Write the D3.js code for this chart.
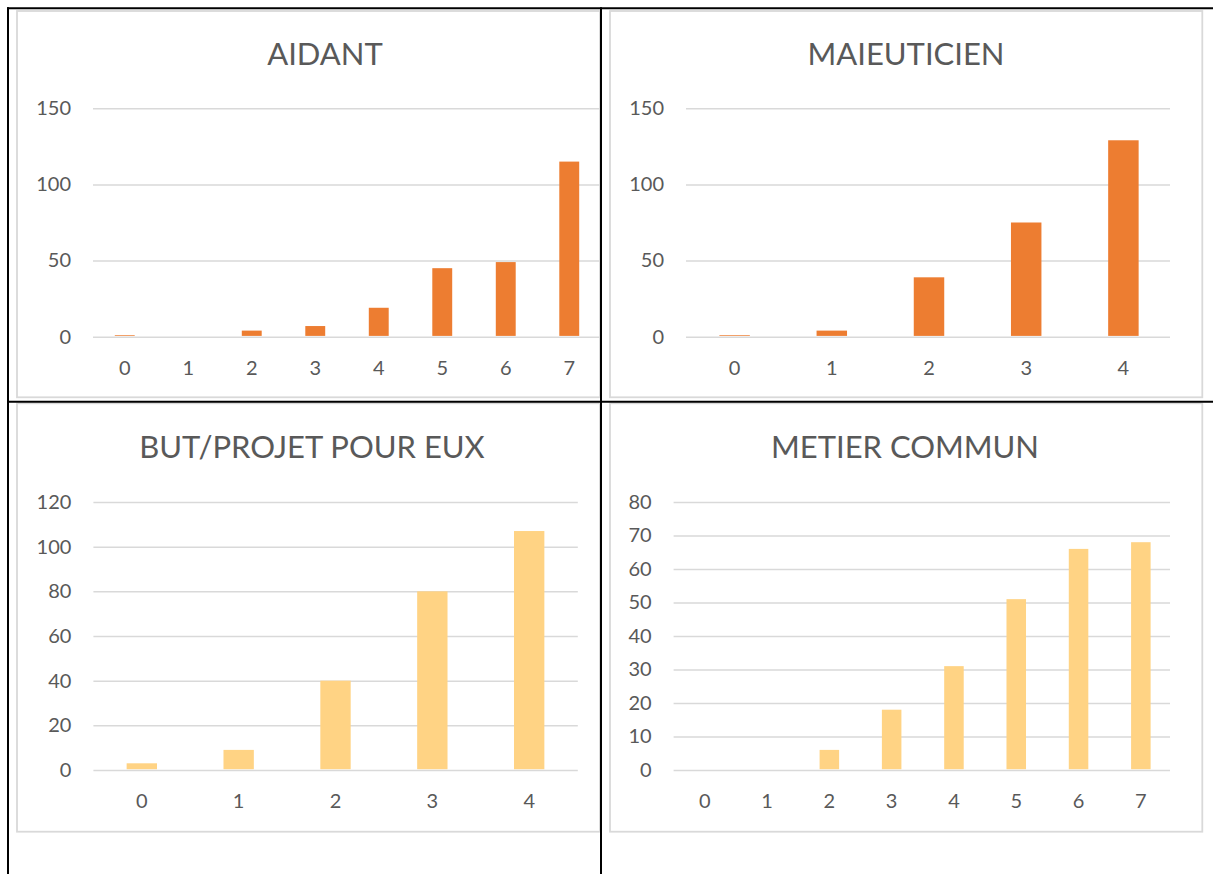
<!DOCTYPE html>
<html>
<head>
<meta charset="utf-8">
<script src="https://cdn.jsdelivr.net/npm/d3@7"></script>
<style>
  html, body { margin: 0; padding: 0; background: #ffffff; }
  svg { display: block; }
  text { font-family: Lato, "Noto Sans", sans-serif; fill: #595959; }
</style>
</head>
<body>
<svg id="page" width="1213" height="874"></svg>
<script>
// ---- data ----
const categoriesAidant = ["0", "1", "2", "3", "4", "5", "6", "7"];
const valuesAidant = [1, 0, 4, 7, 19, 45, 49, 115];
const ticksAidant = [0, 50, 100, 150];

const categoriesMaieuticien = ["0", "1", "2", "3", "4"];
const valuesMaieuticien = [1, 4, 39, 75, 129];
const ticksMaieuticien = [0, 50, 100, 150];

const categoriesBut = ["0", "1", "2", "3", "4"];
const valuesBut = [3, 9, 40, 80, 107];
const ticksBut = [0, 20, 40, 60, 80, 100, 120];

const categoriesMetier = ["0", "1", "2", "3", "4", "5", "6", "7"];
const valuesMetier = [0, 0, 6, 18, 31, 51, 66, 68];
const ticksMetier = [0, 10, 20, 30, 40, 50, 60, 70, 80];

const ORANGE = "#ED7D31";
const GOLD = "#FFD384";

// ---- layout of the four panels ----
const panels = [
  { title: "AIDANT", cats: categoriesAidant, vals: valuesAidant, ticks: ticksAidant, color: ORANGE,
    frame: [17, 11, 600, 397.3], clipRight: 600, titleX: 325, titleY: 65,
    px0: 93, px1: 601, gridEnd: 601, py0: 336.7, py1: 108.3 },
  { title: "MAIEUTICIEN", cats: categoriesMaieuticien, vals: valuesMaieuticien, ticks: ticksMaieuticien, color: ORANGE,
    frame: [610, 11, 1202.3, 397.3], clipRight: 1213, titleX: 906, titleY: 65,
    px0: 686, px1: 1172, gridEnd: 1170, py0: 336.7, py1: 108.3 },
  { title: "BUT/PROJET POUR EUX", cats: categoriesBut, vals: valuesBut, ticks: ticksBut, color: GOLD,
    frame: [17, 403.3, 600, 831.7], clipRight: 600, titleX: 312, titleY: 458.3,
    px0: 93.4, px1: 577.6, gridEnd: 577.8, py0: 770, py1: 502 },
  { title: "METIER COMMUN", cats: categoriesMetier, vals: valuesMetier, ticks: ticksMetier, color: GOLD,
    frame: [610, 403.3, 1202.3, 831.7], clipRight: 1213, titleX: 905, titleY: 458.3,
    px0: 673.6, px1: 1172, gridEnd: 1170, py0: 770, py1: 502 }
];

const svg = d3.select("#page");
const defs = svg.append("defs");

// Excel-style gap width of 219%
const GAP = 2.19;
const pad = GAP / (1 + GAP);

panels.forEach((p, i) => {
  const clipId = "clip" + i;
  defs.append("clipPath").attr("id", clipId)
    .append("rect").attr("x", p.frame[0] - 2).attr("y", p.frame[1] - 2)
    .attr("width", p.clipRight - p.frame[0] + 2).attr("height", p.frame[3] - p.frame[1] + 4);

  const g = svg.append("g").attr("clip-path", `url(#${clipId})`);

  // chart frame
  g.append("rect")
    .attr("x", p.frame[0]).attr("y", p.frame[1])
    .attr("width", p.frame[2] - p.frame[0]).attr("height", p.frame[3] - p.frame[1])
    .attr("fill", "#ffffff").attr("stroke", "#D9D9D9").attr("stroke-width", 1.8);

  // title
  g.append("text")
    .attr("x", p.titleX).attr("y", p.titleY)
    .attr("text-anchor", "middle")
    .style("font-size", "31px")
    .style("font-weight", 400)
    .text(p.title);

  const x = d3.scaleBand().domain(p.cats).range([p.px0, p.px1])
    .paddingInner(pad).paddingOuter(pad / 2);
  const yMax = p.ticks[p.ticks.length - 1];
  const y = d3.scaleLinear().domain([0, yMax]).range([p.py0, p.py1]);

  // y axis with gridlines
  const yAxis = d3.axisLeft(y).tickValues(p.ticks)
    .tickSizeInner(-(p.gridEnd - p.px0)).tickSizeOuter(0).tickPadding(22)
    .tickFormat(d3.format("d"));
  const yg = g.append("g").attr("transform", `translate(${p.px0},0)`).call(yAxis);
  yg.select(".domain").remove();
  yg.selectAll(".tick line").attr("stroke", "#D9D9D9").attr("stroke-width", 1.5);
  yg.selectAll(".tick text").style("font-size", "20px").style("fill", "#595959")
    .style("font-family", "Lato, 'Noto Sans', sans-serif");

  // bars
  g.append("g").selectAll("rect.bar")
    .data(p.cats.map((c, k) => ({ c, v: p.vals[k] })))
    .join("rect")
    .attr("class", "bar")
    .attr("x", d => x(d.c))
    .attr("width", x.bandwidth())
    .attr("y", d => y(d.v))
    .attr("height", d => y(0) - y(d.v) - 0.8)
    .attr("fill", p.color);

  // category axis
  const xAxis = d3.axisBottom(x).tickSize(0).tickPadding(24);
  const xg = g.append("g").attr("transform", `translate(0,${p.py0})`).call(xAxis);
  xg.select(".domain").remove();
  xg.selectAll(".tick text").style("font-size", "20px").style("fill", "#595959")
    .style("font-family", "Lato, 'Noto Sans', sans-serif");
});

// table borders
const borders = svg.append("g").attr("stroke", "#000000").attr("stroke-width", 2);
borders.append("line").attr("x1", 7).attr("x2", 1213).attr("y1", 8.3).attr("y2", 8.3);
borders.append("line").attr("x1", 7).attr("x2", 1213).attr("y1", 401.7).attr("y2", 401.7);
borders.append("line").attr("x1", 8).attr("x2", 8).attr("y1", 7.3).attr("y2", 874);
borders.append("line").attr("x1", 601).attr("x2", 601).attr("y1", 7.3).attr("y2", 874);
</script>
</body>
</html>
